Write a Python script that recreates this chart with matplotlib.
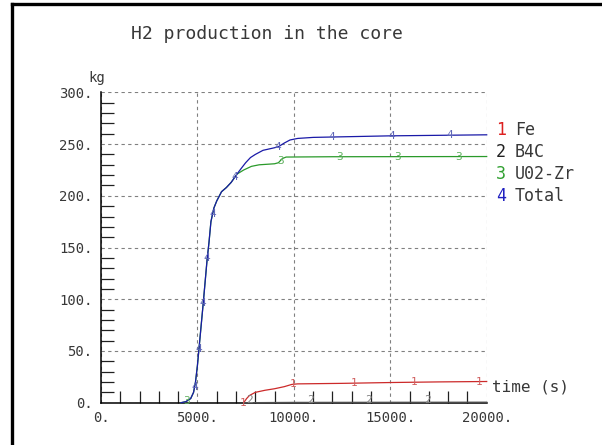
import numpy as np
import matplotlib
matplotlib.use("Agg")
import matplotlib.pyplot as plt
from matplotlib.ticker import MultipleLocator, FixedLocator, FuncFormatter
from matplotlib.lines import Line2D

plt.rcParams['font.family'] = ['DejaVu Sans Mono']

# Dados (tempo em s, massa em kg)
t_total = [4150, 4400, 4650, 4800, 4900, 5000, 5100, 5300, 5500, 5600, 5700,
           5850, 6000, 6250, 6500, 6750, 7050, 7250, 7500, 7750, 8000, 8400,
           9000, 9200, 9500, 9800, 10200, 11000, 15000, 20000]
h2_total = [0, 1, 4, 10, 20, 36, 56, 96, 138, 155, 175,
            188, 195, 204, 208, 213, 221, 226, 232, 237, 240, 244,
            246.5, 247.5, 251, 254, 255.5, 256.5, 258, 259]

t_uo2 = [4150, 4400, 4650, 4800, 4900, 5000, 5100, 5300, 5500, 5600, 5700,
         5850, 6000, 6250, 6500, 6750, 7050, 7400, 7800, 8200, 9000, 9200,
         9400, 9600, 12000, 20000]
h2_uo2 = [0, 1, 4, 10, 20, 36, 56, 96, 138, 155, 175,
          188, 195, 204, 208, 213, 221, 225, 228.5, 230, 231, 232,
          236, 237.5, 237.8, 238]

t_fe = [7400, 7550, 7700, 8000, 8500, 9000, 9500, 9900, 10200, 12500, 15000, 17500, 20000]
h2_fe = [0, 4, 7, 10, 12, 13.5, 15.5, 17.7, 18.2, 18.7, 19.5, 20.1, 20.5]

t_b4c = [7400, 10000, 15000, 20000]
h2_b4c = [0, 0.3, 0.4, 0.5]

# posições dos números sobre as curvas
rot_fe = [7380, 9950, 13100, 16250, 19600]
rot_b4c = [7700, 10850, 13850, 16950]
rot_uo2 = [4450, 9300, 12350, 15400, 18550]
rot_total = [4850, 5080, 5300, 5510, 5790, 6950, 9150, 11950, 15070, 18100]

series = [
    ("1", "Fe", t_fe, h2_fe, rot_fe, '#cc2a2a', '#d06060', '#dd2020'),
    ("2", "B4C", t_b4c, h2_b4c, rot_b4c, '#505050', '#808080', '#202020'),
    ("3", "U02-Zr", t_uo2, h2_uo2, rot_uo2, '#2a9a2a', '#60b060', '#30a030'),
    ("4", "Total", t_total, h2_total, rot_total, '#1a1aa8', '#6068b8', '#2020c0'),
]

fig = plt.figure(figsize=(6.02, 4.45), dpi=100)
ax = fig.add_axes([101 / 602, 1 - 402.7 / 445, 385.7 / 602, 310.3 / 445])

for num, nome, t, h, rot, cor, cor_rot, cor_leg in series:
    ax.plot(t, h, color=cor, lw=0.9, clip_on=False, zorder=3)
    for xr in rot:
        yr = np.interp(xr, t, h)
        if num == "2":
            yr += 2.5
        ax.text(xr, yr, num, color=cor_rot, fontsize=8, ha='center', va='center',
                zorder=4, clip_on=False)

ax.set_xlim(0, 20000)
ax.set_ylim(0, 300)
ax.xaxis.set_major_locator(MultipleLocator(5000))
ax.yaxis.set_major_locator(MultipleLocator(50))
ax.xaxis.set_minor_locator(FixedLocator([v for v in range(0, 20001, 1000) if v % 5000]))
ax.yaxis.set_minor_locator(FixedLocator([v for v in range(0, 301, 10) if v % 50]))
fmt = FuncFormatter(lambda v, p: f"{int(round(v))}.")
ax.xaxis.set_major_formatter(fmt)
ax.yaxis.set_major_formatter(fmt)
ax.tick_params(which='major', length=0, labelsize=10, colors='#383838', pad=6)
ax.tick_params(which='minor', direction='in', length=9, width=0.9, color='#202020')

ax.grid(True, which='major', color='#808080', lw=0.8, linestyle=(0, (3, 3)))
ax.spines['top'].set_visible(False)
ax.spines['right'].set_visible(False)
ax.spines['left'].set_linewidth(1.1)
ax.spines['bottom'].set_linewidth(1.1)
ax.set_axisbelow(True)

fig.text(267 / 602, 1 - 34 / 445, "H2 production in the core", fontsize=13,
         ha='center', va='center', color='#383838')
fig.text(88 / 602, 1 - 78 / 445, "kg", fontsize=10, ha='left', va='center', color='#383838')
fig.text(492 / 602, 1 - 387 / 445, "time (s)", fontsize=11.5, ha='left', va='center',
         color='#383838')

for i, (num, nome, t, h, rot, cor, cor_rot, cor_leg) in enumerate(series):
    y = 1 - (130 + i * 22) / 445
    fig.text(496 / 602, y, num, fontsize=12, color=cor_leg, ha='left', va='center')
    fig.text(515 / 602, y, nome, fontsize=12, color='#383838', ha='left', va='center')

# moldura
fig.add_artist(Line2D([12 / 602, 12 / 602], [0, 1 - 4 / 445], color='black', lw=2.4,
                      transform=fig.transFigure))
fig.add_artist(Line2D([12 / 602, 1], [1 - 4 / 445, 1 - 4 / 445], color='black', lw=2.4,
                      transform=fig.transFigure))

fig.savefig("out.png", dpi=100)
